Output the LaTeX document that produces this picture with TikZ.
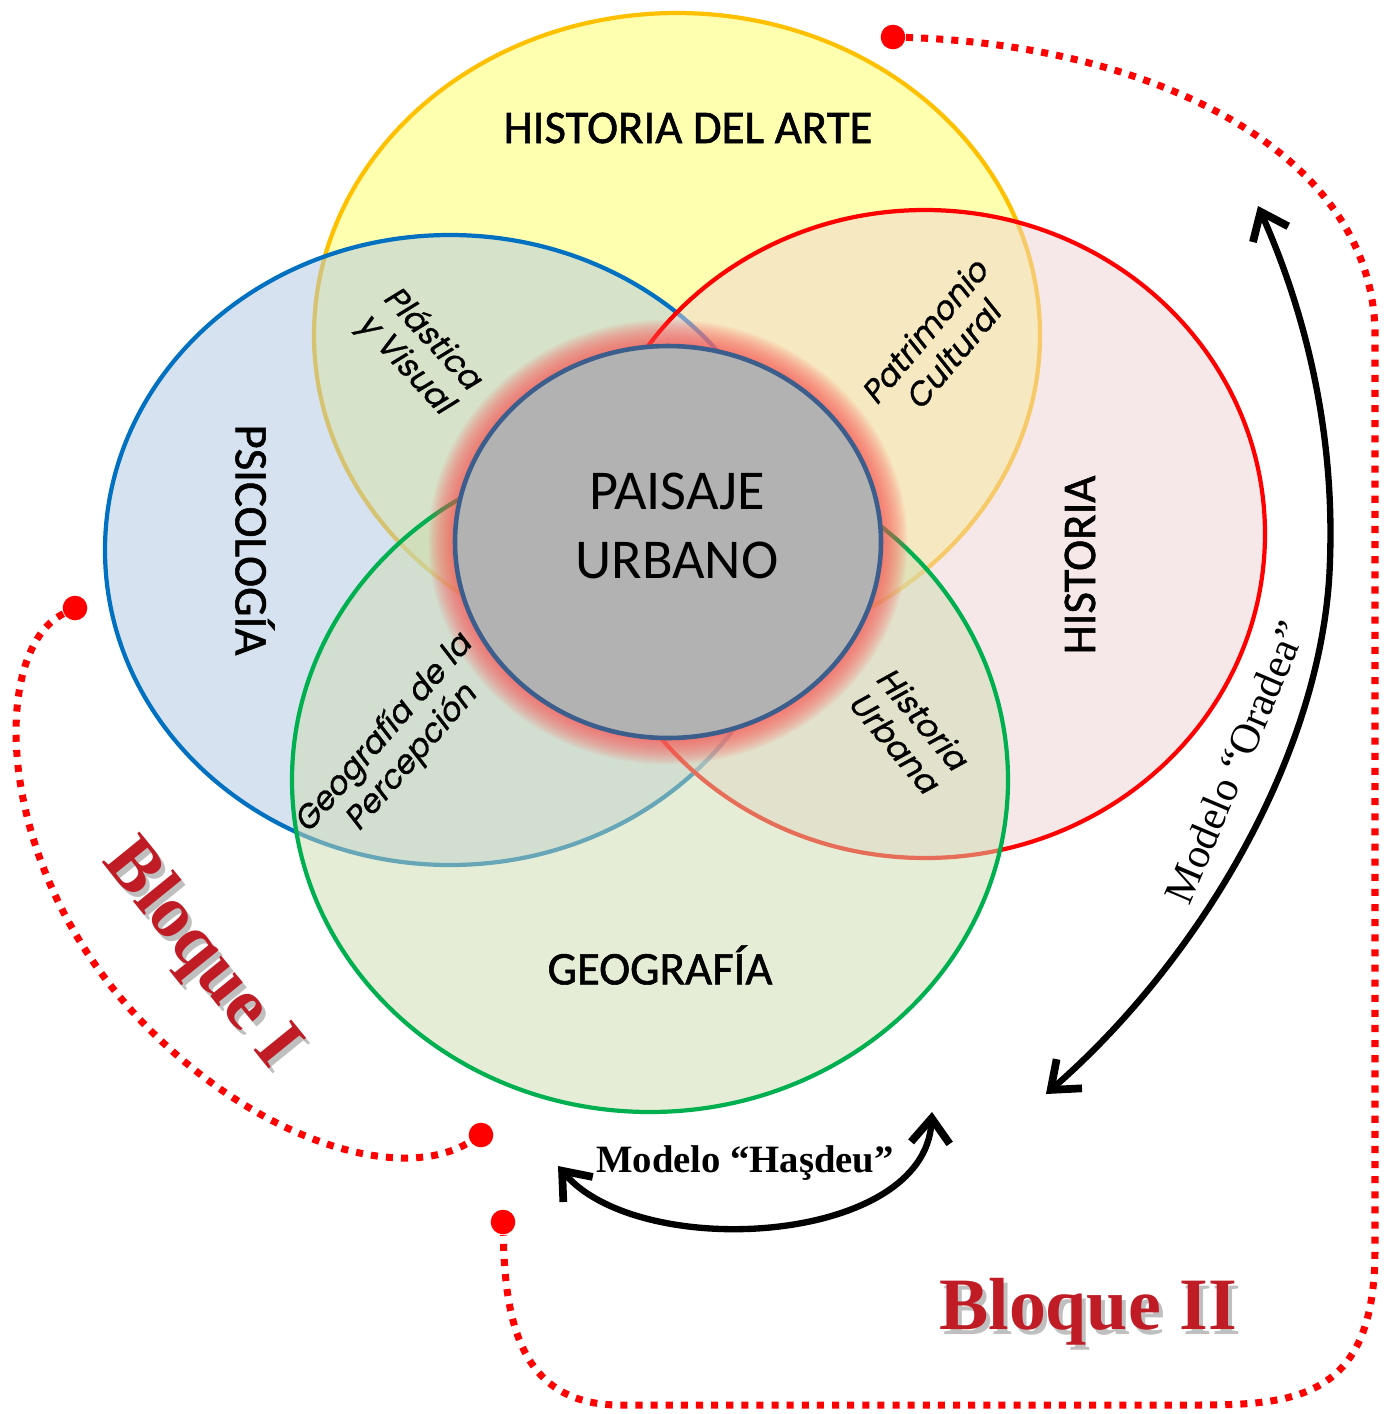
\documentclass[tikz,border=0pt]{standalone}
\usepackage{fontspec}
\usepackage{tikz}
\usetikzlibrary{arrows.meta,
	positioning}
\setmainfont{Liberation Serif}
\newfontfamily\labelfont{Carlito}[FakeBold=1.2]
\newfontfamily\centerfont{Carlito}
\newfontfamily\gothfont{Poppins}[FakeSlant=0.2, FakeBold=0.8]

\definecolor{artefill}{RGB}{255,255,97}
\definecolor{artedraw}{RGB}{255,192,0}
\definecolor{psicofill}{RGB}{175,198,226}
\definecolor{psicodraw}{RGB}{0,112,192}
\definecolor{histfill}{RGB}{238,210,210}
\definecolor{histdraw}{RGB}{255,0,0}
\definecolor{geofill}{RGB}{206,220,176}
\definecolor{geodraw}{RGB}{0,176,80}
\definecolor{paisfill}{RGB}{178,178,178}
\definecolor{paisdraw}{RGB}{60,94,140}
\definecolor{bloquered}{RGB}{192,28,38}

\tikzset{
	campo/.style={line width=1.2pt, fill opacity=0.5},
	rotulo/.style={font=\labelfont\fontsize{13.3}{15}\selectfont, inner sep=0pt},
	cruce/.style={font=\gothfont\fontsize{9.2}{10.5}\selectfont, align=center, inner sep=0pt},
	bloque/.style={red, line width=2pt, dash pattern=on 2pt off 2.3pt},
	puntorojo/.style={circle, fill=red, inner sep=0pt, minimum size=7pt},
	modelo/.style={line width=1.8pt, {Straight Barb[length=7pt,width=11pt,line width=2.2pt]}-{Straight Barb[length=7pt,width=11pt,line width=2.2pt]}},
	titulo/.style={font=\bfseries\fontsize{21}{24}\selectfont, inner sep=0pt},
}

\begin{document}
\begin{tikzpicture}[x=0.01cm, y=-0.01cm]
	\useasboundingbox (0,0) rectangle (1392,1414);
	\draw[campo, draw=artedraw, fill=artefill] (677,335) ellipse [x radius=363, y radius=322];
	\draw[campo, draw=psicodraw, fill=psicofill] (450,550) ellipse [x radius=345, y radius=315];
	\draw[campo, draw=histdraw, fill=histfill] (925,534) ellipse [x radius=340, y radius=324];
	\draw[campo, draw=geodraw, fill=geofill] (650,780) ellipse [x radius=358, y radius=332];

	\foreach \w in {15,14,...,1}
		\draw[red!70!white, opacity=0.07, line width=\w pt] (668,542) ellipse [x radius=213, y radius=196];
	\draw[line width=1.3pt, draw=paisdraw, fill=paisfill] (668,542) ellipse [x radius=213, y radius=196];
	\node[font=\centerfont\fontsize{16}{19.5}\selectfont, align=center] (paisaje) at (677,526) {PAISAJE\\URBANO};

	\node[rotulo] (arte) at (688,128) {HISTORIA DEL ARTE};
	\node[rotulo, rotate=-90] (psico) at (255,540) {PSICOLOGÍA};
	\node[rotulo, rotate=90] (hist) at (1080,565) {HISTORIA};
	\node[rotulo] (geo) at (660,965) {GEOGRAFÍA};

	\node[cruce, rotate=-47] (plastica) at (418,352) {Plástica\\y Visual};
	\node[cruce, rotate=50] (patrimonio) at (938,343) {Patrimonio\\Cultural};
	\node[cruce, rotate=49] (percepcion) at (398,746) {Geografía de la\\Percepción};
	\node[cruce, rotate=-50] (urbana) at (909,730) {Historia\\Urbana};

	\node[puntorojo] (dotA) at (75,608) {};
	\node[puntorojo] (dotB) at (481,1135) {};
	\node[puntorojo] (dotC) at (893,37) {};
	\node[puntorojo] (dotD) at (503,1222) {};
	\draw[bloque] (dotA) .. controls (-10,650) and (-10,870) .. (150,1030) .. controls (260,1140) and (400,1185) .. (dotB);
	\draw[bloque] (dotC) .. controls (1150,45) and (1370,150) .. (1375,330) -- (1375,1250) .. controls (1375,1395) and (1300,1405) .. (1200,1405) -- (620,1405) .. controls (520,1405) and (505,1320) .. (dotD);

	\coordinate (oradeaA) at (1258,206);
	\coordinate (oradeaB) at (1046,1094);
	\draw[modelo] (oradeaA) .. controls (1300,300) and (1335,420) .. (1330,560) .. controls (1325,750) and (1200,960) .. (oradeaB);
	\node[font=\fontsize{12}{14}\selectfont, rotate=67] (oradea) at (1235,762) {Modelo “Oradea”};

	\coordinate (hasdeuA) at (932,1112);
	\coordinate (hasdeuB) at (558,1166);
	\draw[modelo] (hasdeuA) .. controls (925,1245) and (640,1262) .. (hasdeuB);
	\node[font=\bfseries\fontsize{11}{13}\selectfont] (hasdeu) at (745,1163) {Modelo “Haşdeu”};

	\node[titulo, rotate=-51, text=black!50, opacity=0.5] (bloqueIsombra) at (204,960) {Bloque I};
	\node[titulo, rotate=-51, text=bloquered] (bloqueI) at (200,955) {Bloque I};
	\node[titulo, text=black!50, opacity=0.5] (bloqueIIsombra) at (1092,1317) {Bloque II};
	\node[titulo, text=bloquered] (bloqueII) at (1088,1312) {Bloque II};
\end{tikzpicture}
\end{document}
